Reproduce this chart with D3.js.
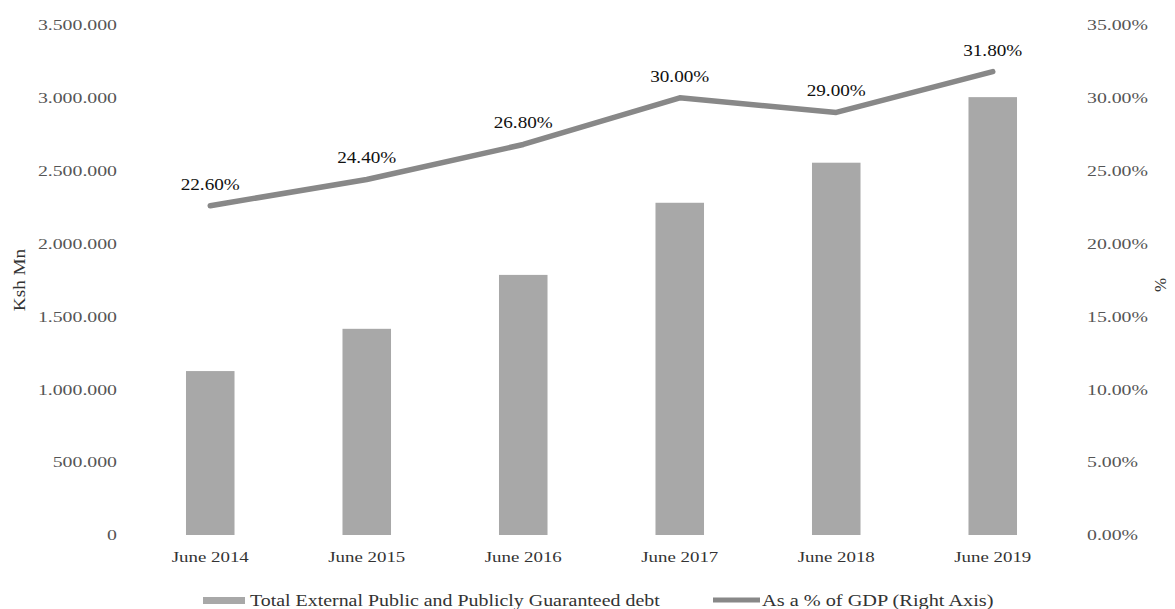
<!DOCTYPE html>
<html><head><meta charset="utf-8">
<script src="https://cdn.jsdelivr.net/npm/d3@7"></script>
<style>body{margin:0;background:#fff}svg text{font-family:"Liberation Serif","Times New Roman",serif}</style>
</head><body><svg id="c" width="1175" height="609"></svg>
<script>
const categories = ["June 2014","June 2015","June 2016","June 2017","June 2018","June 2019"];
const debtValues = [1125000, 1415000, 1785000, 2280000, 2555000, 3005000];
const gdpPct = [22.6, 24.4, 26.8, 30.0, 29.0, 31.8];
const leftTicks = [0,500000,1000000,1500000,2000000,2500000,3000000,3500000];
const rightTicks = [0,5,10,15,20,25,30,35];
const seriesNames = ["Total External Public and Publicly Guaranteed debt","As a % of GDP (Right Axis)"];

const svg = d3.select("#c");
const pTop = 25, pBottom = 535, pLeft = 132, pRight = 1071;
const x = d3.scaleBand().domain(categories).range([pLeft,pRight]).paddingInner(0.69).paddingOuter(0.345);
const yL = d3.scaleLinear().domain([0,3500000]).range([pBottom,pTop]);
const yR = d3.scaleLinear().domain([0,35]).range([pBottom,pTop]);
const fmt = v => d3.format(",")(v).replace(/,/g,".");

const barColor = "#a8a8a8", lineColor = "#888888";

// bars
svg.append("g").selectAll("rect").data(categories).join("rect")
  .attr("x", d=>x(d)).attr("width", x.bandwidth())
  .attr("y", (d,i)=>yL(debtValues[i])).attr("height",(d,i)=>yL(0)-yL(debtValues[i]))
  .attr("fill", barColor);

// left axis
const la = svg.append("g").attr("transform",`translate(117,0)`)
  .call(d3.axisLeft(yL).tickValues(leftTicks).tickFormat(fmt).tickSize(0).tickPadding(0));
la.select(".domain").remove();
la.selectAll("text").attr("font-size",15).attr("fill","#555").attr("transform","scale(1.32,1)");

// right axis
const ra = svg.append("g").attr("transform",`translate(1087,0)`)
  .call(d3.axisRight(yR).tickValues(rightTicks).tickFormat(d=>d3.format(".2f")(d)+"%").tickSize(0).tickPadding(0));
ra.select(".domain").remove();
ra.selectAll("text").attr("font-size",15).attr("fill","#555").attr("transform","scale(1.32,1)");

// x axis
const xa = svg.append("g").attr("transform",`translate(0,${pBottom+8})`)
  .call(d3.axisBottom(x).tickSize(0).tickPadding(8));
xa.select(".domain").remove();
xa.selectAll("text").attr("font-size",15).attr("fill","#333").attr("transform","scale(1.26,1)");

// line
const line = d3.line().x((d,i)=>x(categories[i])+x.bandwidth()/2).y(d=>yR(d));
svg.append("path").datum(gdpPct).attr("d",line).attr("fill","none")
  .attr("stroke",lineColor).attr("stroke-width",5.5).attr("stroke-linecap","round").attr("stroke-linejoin","round");

// data labels
svg.append("g").selectAll("text").data(gdpPct).join("text")
  .attr("transform",(d,i)=>`translate(${x(categories[i])+x.bandwidth()/2},${yR(d)-16}) scale(1.13,1)`)
  .attr("text-anchor","middle")
  .attr("font-size",17).attr("fill","#111")
  .text(d=>d3.format(".2f")(d)+"%");

// axis titles
svg.append("text").attr("transform","translate(25,280) rotate(-90) scale(1.2,1)").attr("text-anchor","middle")
  .attr("font-size",16).attr("fill","#333").text("Ksh Mn");
svg.append("text").attr("transform","translate(1166,285) rotate(-90)").attr("text-anchor","middle")
  .attr("font-size",17).attr("fill","#333").text("%");

// legend
const lg = svg.append("g");
lg.append("rect").attr("x",203).attr("y",597).attr("width",42).attr("height",7).attr("fill",barColor);
lg.append("text").attr("transform","translate(250,606) scale(1.245,1)").attr("font-size",16).attr("fill","#333").text(seriesNames[0]);
lg.append("line").attr("x1",713).attr("x2",760).attr("y1",600).attr("y2",600).attr("stroke",lineColor).attr("stroke-width",5);
lg.append("text").attr("transform","translate(762,606) scale(1.27,1)").attr("font-size",16).attr("fill","#333").text(seriesNames[1]);
</script></body></html>
